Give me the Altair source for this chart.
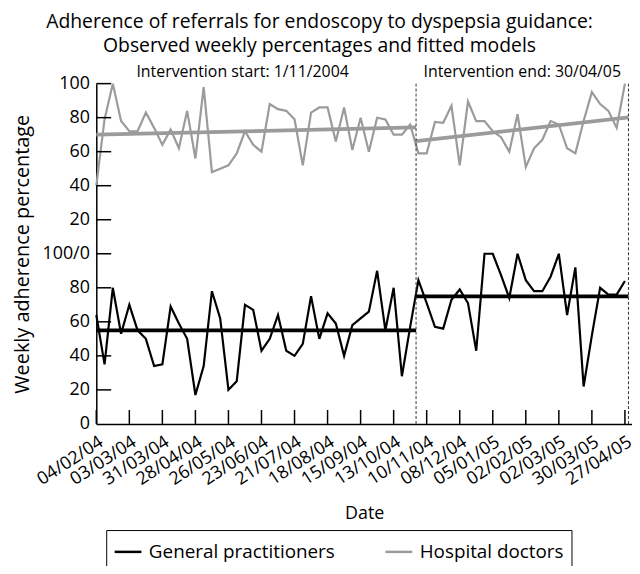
import pandas as pd
import altair as alt

# ---------------- data ----------------
first_week = "2004-02-04"
n_weeks = 65

gp_values = [64, 35, 80, 53, 70, 55, 50, 34, 35, 69,
             59, 50, 17, 34, 78, 62, 20, 25, 70, 67,
             43, 50, 64, 43, 40, 47, 75, 50, 65, 59,
             40, 58, 62, 66, 90, 55, 80, 28, 57, 84.5,
             71, 57, 56, 73, 79, 71, 43, 100, 100, 87.5,
             74, 100, 84.5, 78, 78, 86.5, 100, 64, 92, 22,
             52, 80, 76, 76, 84]

hd_values = [40, 79, 100, 78, 72, 72, 83, 74, 64, 73,
             62, 84, 56, 98, 48, 50, 52, 59, 72, 64,
             60, 88, 85, 84, 79, 52, 83, 86, 86, 66,
             86, 61, 80, 60, 80, 79, 70, 70, 76, 59,
             59, 77.5, 77, 87, 52, 89.5, 78, 78, 72, 68.5,
             60, 82, 51, 62, 67, 78, 76, 62, 59, 78,
             95, 88, 84, 74, 100]

series_names = ["General practitioners", "Hospital doctors"]
series_colors = ["#000000", "#9b9b9b"]

# fitted segmented models (period, date, GP fit, hospital fit)
fit_period = ["pre", "pre", "post", "post"]
fit_dates = ["2004-02-04", "2004-11-01", "2004-11-01", "2005-04-30"]
gp_fit = [55, 55, 75, 75]
hd_fit = [70, 74.3, 66.2, 80.2]

intervention_dates = ["2004-11-01", "2005-04-30"]
annot_dates = ["2004-06-07", "2005-01-30"]
annot_texts = ["Intervention start: 1/11/2004", "Intervention end: 30/04/05"]

x_tick_labels = ["04/02/04", "03/03/04", "31/03/04", "28/04/04", "26/05/04",
                 "23/06/04", "21/07/04", "18/08/04", "15/09/04", "13/10/04",
                 "10/11/04", "08/12/04", "05/01/05", "02/02/05", "02/03/05",
                 "30/03/05", "27/04/05"]
y_tick_values = [0, 20, 40, 60, 80, 100, 120, 140, 160, 180, 200]
y_tick_labels = ["0", "20", "40", "60", "80", "100/0", "20", "40", "60", "80", "100"]

x_domain = ["2004-02-04", "2005-05-03"]

# ---------------- tables ----------------
def ms(s):
    return int(pd.Timestamp(s, tz="UTC").value // 10**6)

W, H = 540, 343
FONT = "Open Sans"
X_TICK_PX, Y_TICK_PX = 14, 15   # inward tick lengths in pixels

week_dates = [d.strftime("%Y-%m-%d") for d in pd.date_range(first_week, periods=n_weeks, freq="7D")]

obs = pd.DataFrame({
    "date": week_dates * 2,
    "value": gp_values + hd_values,
    "series": [series_names[0]] * n_weeks + [series_names[1]] * n_weeks,
})
fit = pd.DataFrame({
    "date": fit_dates * 2,
    "value": gp_fit + hd_fit,
    "period": fit_period * 2,
    "series": [series_names[0]] * 4 + [series_names[1]] * 4,
})
fit["key"] = fit["series"] + fit["period"]
vlines = pd.DataFrame({"date": intervention_dates})
annots = pd.DataFrame({"date": annot_dates, "text": annot_texts})
x_tick_iso = [pd.to_datetime(t, format="%d/%m/%y").strftime("%Y-%m-%d") for t in x_tick_labels]
x_tick_ms = [ms(d) for d in x_tick_iso]

# inward tick segments (two end points each), converted from pixel tick lengths
d0, d1 = ms(x_domain[0]), ms(x_domain[1])
ms_per_px = (d1 - d0) / W
y_per_px = (y_tick_values[-1] - y_tick_values[0]) / H
y_tick_end = pd.Timestamp(d0 + Y_TICK_PX * ms_per_px, unit="ms").strftime("%Y-%m-%dT%H:%M:%S")
rows = []
for i, d in enumerate(x_tick_iso):
    rows.append({"id": f"x{i}", "x": d, "y": 0.0})
    rows.append({"id": f"x{i}", "x": d, "y": X_TICK_PX * y_per_px})
for i, v in enumerate(y_tick_values[1:]):
    rows.append({"id": f"y{i}", "x": x_domain[0], "y": float(v)})
    rows.append({"id": f"y{i}", "x": y_tick_end, "y": float(v)})
ticks = pd.DataFrame(rows)

y_label_expr = "".join(f"datum.value == {v} ? '{l}' : " for v, l in zip(y_tick_values, y_tick_labels)) + "''"

xscale = alt.Scale(type="utc", domain=[d0, d1])
yscale = alt.Scale(domain=[0, 200], nice=False)
color = alt.Color("series:N",
                  scale=alt.Scale(domain=series_names, range=series_colors),
                  legend=alt.Legend(title=None, orient="none", legendX=10, legendY=450,
                                    direction="horizontal", strokeColor="black",
                                    padding=7, labelFontSize=19, labelFont=FONT,
                                    symbolType="stroke", symbolSize=729,
                                    symbolStrokeWidth=2.5, columnPadding=45,
                                    labelOffset=6, labelLimit=0))

x_axis = alt.Axis(title="Date", values=x_tick_ms, labelExpr="utcFormat(datum.value, '%d/%m/%y')",
                  labelAngle=-33, labelAlign="right", labelBaseline="top", labelOverlap=False,
                  labelFontSize=18, labelPadding=9, ticks=False, grid=False,
                  domainColor="black", domainWidth=1.5, titleFontSize=18,
                  titleFontWeight="normal", titlePadding=16, labelColor="black", titleColor="black")
y_axis = alt.Axis(title="Weekly adherence percentage", values=y_tick_values, labelExpr=y_label_expr,
                  labelFontSize=18, labelPadding=7, ticks=False, grid=False, labelOverlap=False,
                  domainColor="black", domainWidth=1.5, titleFontSize=20, titleX=-64,
                  titleFontWeight="normal", labelColor="black", titleColor="black")

offset_expr = f"datum.series == '{series_names[1]}' ? datum.value + 100 : datum.value"

obs_layer = alt.Chart(obs).transform_calculate(y=offset_expr).mark_line(strokeWidth=2.2).encode(
    x=alt.X("date:T", scale=xscale, axis=x_axis),
    y=alt.Y("y:Q", scale=yscale, axis=y_axis),
    color=color,
    detail="series:N",
)
fit_layer = alt.Chart(fit).transform_calculate(y=offset_expr).mark_line(strokeWidth=3.8).encode(
    x=alt.X("date:T", scale=xscale, axis=x_axis),
    y=alt.Y("y:Q", scale=yscale, axis=y_axis),
    color=alt.Color("series:N", scale=alt.Scale(domain=series_names, range=series_colors), legend=None),
    detail="key:N",
)
vline_layer = alt.Chart(vlines).mark_rule(strokeDash=[3, 2], color="#333333", strokeWidth=1).encode(
    x=alt.X("date:T", scale=xscale, axis=x_axis),
)
annot_layer = alt.Chart(annots).mark_text(fontSize=16, font=FONT, color="black", align="center",
                                          baseline="middle").encode(
    x=alt.X("date:T", scale=xscale, axis=x_axis),
    y=alt.value(-12),
    text="text:N",
)
tick_layer = alt.Chart(ticks).mark_line(color="black", strokeWidth=1.5).encode(
    x=alt.X("x:T", scale=xscale, axis=x_axis),
    y=alt.Y("y:Q", scale=yscale, axis=y_axis),
    detail="id:N",
)

chart = alt.layer(obs_layer, fit_layer, vline_layer, annot_layer, tick_layer).properties(
    width=W, height=H,
    title=alt.Title(["Adherence of referrals for endoscopy to dyspepsia guidance:",
                     "Observed weekly percentages and fitted models"],
                    fontSize=19.5, fontWeight="normal", anchor="middle", dx=-45, offset=7,
                    font=FONT, color="black", lineHeight=25),
    autosize=alt.AutoSizeParams(type="none"),
    padding={"left": 89, "top": 74, "right": 0, "bottom": 141},
).configure(font=FONT).configure_view(stroke=None).configure_axis(labelOverlap=False)

chart.save("out.html", embed_options={"renderer": "svg", "actions": False})
